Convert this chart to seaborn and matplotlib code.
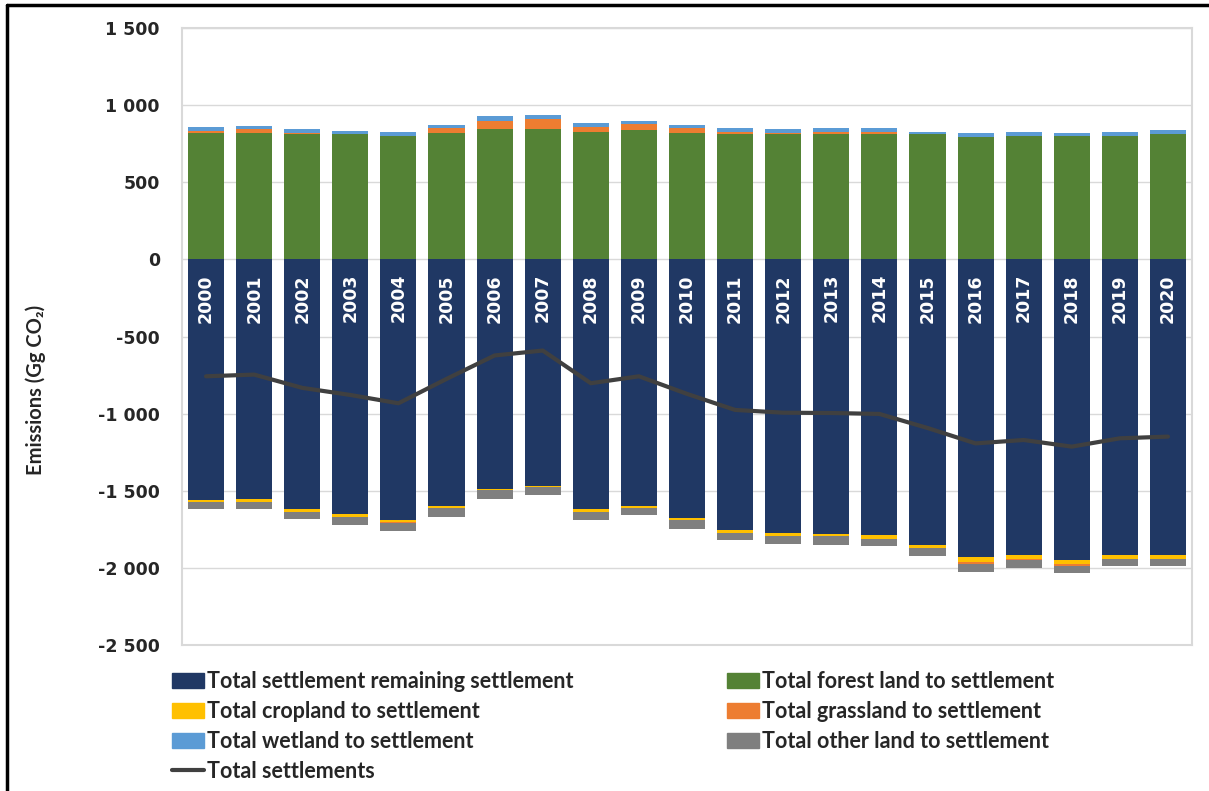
import numpy as np
import pandas as pd
import seaborn as sns
import matplotlib
matplotlib.use("Agg")
import matplotlib.pyplot as plt
from matplotlib.patches import Patch
from matplotlib.lines import Line2D
from matplotlib.ticker import FuncFormatter

# ---------------- data (Gg CO2) ----------------
years = [str(y) for y in range(2000, 2021)]

settlement_remaining = [-1559, -1554, -1619, -1651, -1690, -1602, -1487, -1472, -1619, -1596, -1675,
                        -1755, -1773, -1779, -1788, -1851, -1929, -1916, -1950, -1916, -1916]
forest = [818, 820, 812, 810, 803, 820, 844, 844, 829, 836, 820,
          810, 810, 810, 810, 810, 794, 803, 801, 803, 810]
cropland = [-13, -16, -16, -16, -11, -9, -9, -6, -17, -15, -15,
            -16, -22, -15, -22, -17, -30, -24, -22, -24, -24]
grassland = [15, 22, 6, 4, -9, 30, 54, 69, 28, 39, 30,
             17, 8, 17, 17, 0, -13, -8, -13, 0, 0]
wetland = [24, 23, 24, 20, 22, 24, 32, 24, 24, 22, 24,
           22, 24, 22, 22, 15, 24, 24, 17, 21, 26]
other_land = [-45, -47, -49, -54, -52, -56, -58, -49, -54, -47, -56,
              -47, -48, -56, -47, -54, -54, -54, -50, -45, -45]
total = [-758, -747, -833, -879, -933, -775, -623, -591, -803, -758, -872,
         -976, -994, -996, -1002, -1093, -1193, -1171, -1214, -1160, -1149]

labels = ["Total settlement remaining settlement", "Total forest land to settlement",
          "Total cropland to settlement", "Total grassland to settlement",
          "Total wetland to settlement", "Total other land to settlement",
          "Total settlements"]

c_navy = "#203864"
c_green = "#548235"
c_yellow = "#FFC000"
c_orange = "#ED7D31"
c_blue = "#5B9BD5"
c_gray = "#7F7F7F"
c_line = "#404040"

# ---------------- stacking (Excel style: positives up, negatives down) ----------------
df = pd.DataFrame({"year": years, "settle": settlement_remaining, "forest": forest,
                   "crop": cropland, "grass": grassland, "wet": wetland, "other": other_land})
df["grass_pos"] = df["grass"].clip(lower=0)
df["grass_neg"] = df["grass"].clip(upper=0)

pos_layers = [
    (df["forest"] + df["grass_pos"] + df["wet"], c_blue),
    (df["forest"] + df["grass_pos"], c_orange),
    (df["forest"], c_green),
]
neg_layers = [
    (df["settle"] + df["crop"] + df["grass_neg"] + df["other"], c_gray),
    (df["settle"] + df["crop"] + df["grass_neg"], c_orange),
    (df["settle"] + df["crop"], c_yellow),
    (df["settle"], c_navy),
]

sns.set_theme(style="white")
plt.rcParams["font.family"] = ["DejaVu Sans"]

fig = plt.figure(figsize=(12.09, 7.91), dpi=100)
ax = fig.add_axes([182 / 1209, 1 - 645 / 791, (1192 - 182) / 1209, (645 - 28) / 791])

for vals, col in pos_layers + neg_layers:
    sns.barplot(x=df["year"], y=vals, color=col, saturation=1, width=0.75,
                linewidth=0, ax=ax, zorder=2)

ax.plot(np.arange(len(years)), total, color=c_line, lw=3, zorder=4, solid_capstyle="round")

# year labels inside the navy bars
for i, yr in enumerate(years):
    ax.text(i, -95, yr, rotation=90, ha="center", va="top", color="white",
            fontsize=12.5, fontweight="bold", zorder=5)

ax.set_ylim(-2500, 1500)
ax.set_xlim(-0.5, len(years) - 0.5)
ax.set_yticks(np.arange(-2500, 1501, 500))
ax.yaxis.set_major_formatter(FuncFormatter(lambda v, p: f"{int(v):,}".replace(",", " ")))
ax.yaxis.grid(True, color="#D9D9D9", lw=1)
ax.set_axisbelow(True)
ax.set_xticks([])
ax.set_xlabel("")
ax.tick_params(axis="y", length=0, pad=16, labelsize=12.5)
for lab in ax.get_yticklabels():
    lab.set_fontweight("bold")
for s in ax.spines.values():
    s.set_color("#D9D9D9")
    s.set_linewidth(1.5)

ax.set_ylabel("Emissions (Gg CO₂)", fontsize=14.5, fontweight="bold",
              family=["Lato", "DejaVu Sans"])
ax.yaxis.set_label_coords((46 - 182) / 1010, (645 - 390) / 617)

# legend (column-first order so rows match the original)
handles = {
    labels[0]: Patch(color=c_navy), labels[1]: Patch(color=c_green),
    labels[2]: Patch(color=c_yellow), labels[3]: Patch(color=c_orange),
    labels[4]: Patch(color=c_blue), labels[5]: Patch(color=c_gray),
    labels[6]: Line2D([], [], color=c_line, lw=3),
}
order = [labels[0], labels[2], labels[4], labels[6], labels[1], labels[3], labels[5]]
fig.legend([handles[k] for k in order], order, ncol=2, loc="upper left",
           bbox_to_anchor=(161 / 1209, 1 - 660 / 791), frameon=False,
           prop={"family": ["Lato", "DejaVu Sans"], "weight": "bold", "size": 15.5},
           handlelength=1.5, handleheight=0.7, handletextpad=0.15,
           columnspacing=7.1, labelspacing=0.42, borderpad=0)

# outer frame (top and left edges as in the original)
fig.add_artist(Line2D([7 / 1209, 7 / 1209], [0, 1 - 5 / 791], color="black", lw=2.5,
                      transform=fig.transFigure))
fig.add_artist(Line2D([7 / 1209, 1], [1 - 5 / 791, 1 - 5 / 791], color="black", lw=2.5,
                      transform=fig.transFigure))

fig.savefig("out.png", dpi=100)
